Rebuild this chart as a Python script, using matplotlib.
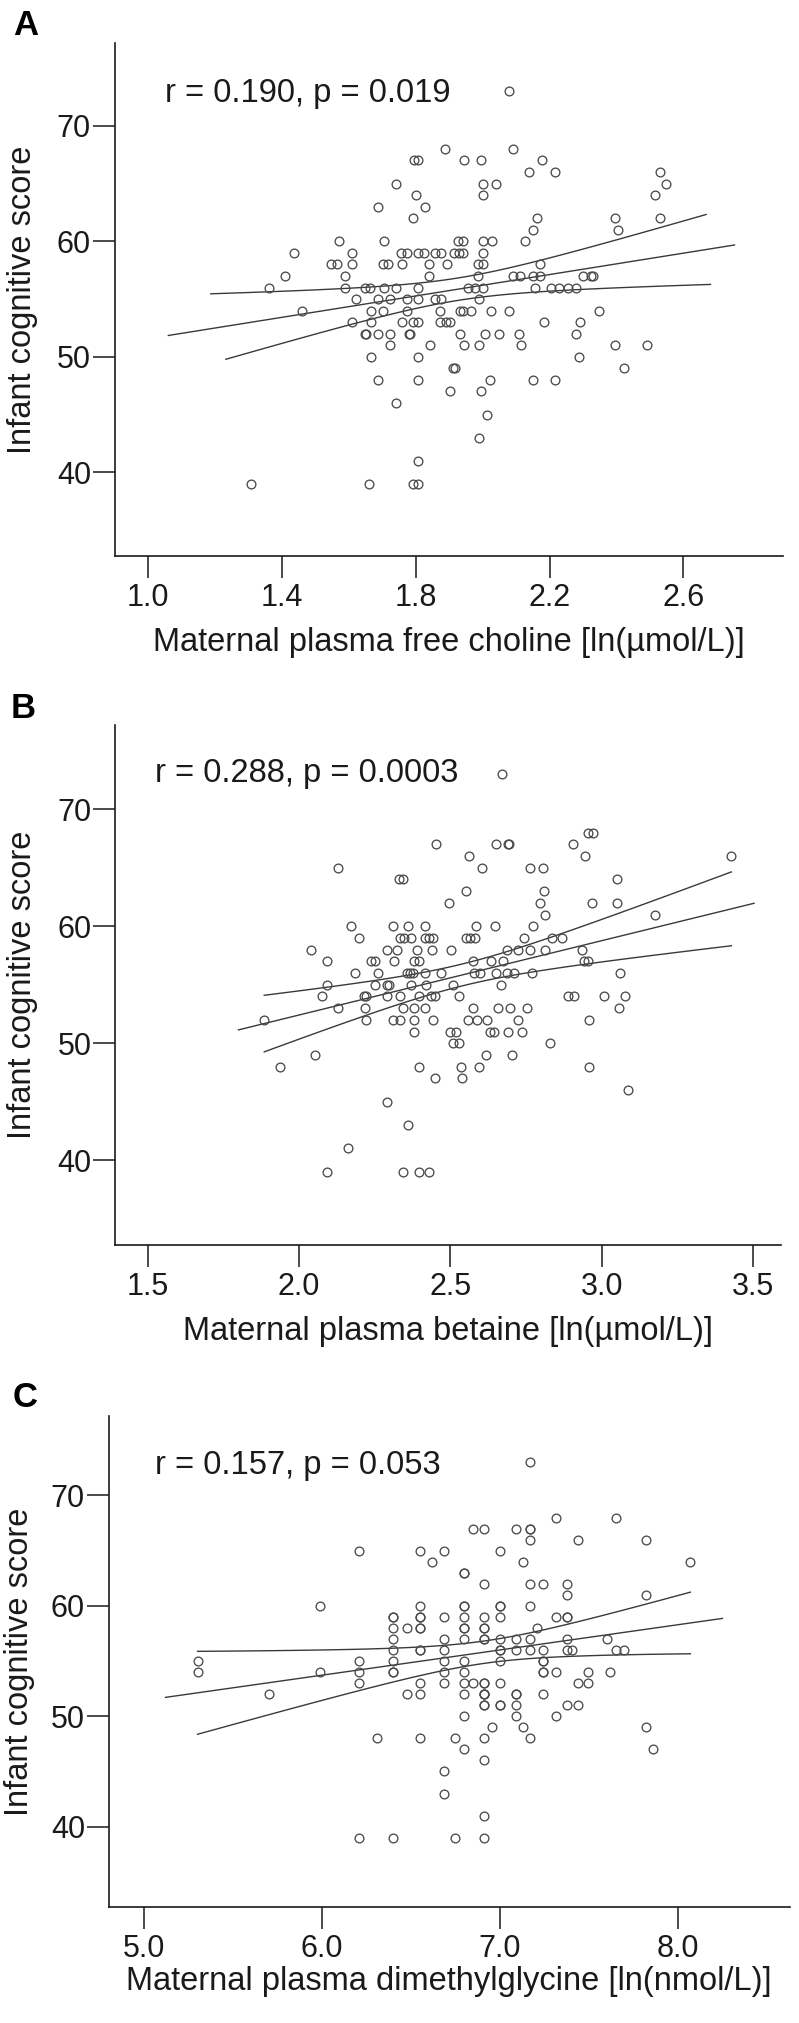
import numpy as np
import matplotlib
matplotlib.use("Agg")
import matplotlib.pyplot as plt

plt.rcParams['font.family'] = ['Liberation Sans', 'DejaVu Sans']

# ---------------- data ----------------
# Panel A: maternal plasma free choline [ln(umol/L)] vs infant cognitive score
choline_x = [
    2.078,
    1.887, 2.09,
    1.796, 1.808, 1.945, 1.994, 2.178,
    2.138, 2.217, 2.53,
    1.741, 2.0, 2.041, 2.547,
    1.80, 2.0, 2.515,
    1.687, 1.826,
    1.792, 2.163, 2.395, 2.53,
    2.149, 2.405,
    1.57, 1.706, 1.927, 1.942, 2.0, 2.028, 2.127,
    1.435, 1.609, 1.755, 1.773, 1.808, 1.824, 1.857, 1.874, 1.914, 1.93, 1.942, 2.0,
    1.545, 1.565, 1.609, 1.703, 1.718, 1.758, 1.84, 1.894, 1.986, 2.0, 2.171,
    1.41, 1.589, 1.84, 1.986, 2.09, 2.112, 2.149, 2.171, 2.299, 2.325, 2.33,
    1.361, 1.589, 1.649, 1.664, 1.704, 1.741, 1.808, 1.956, 1.976, 2.0, 2.155, 2.204, 2.229, 2.254, 2.279,
    1.621, 1.687, 1.722, 1.775, 1.808, 1.857, 1.874, 1.988,
    1.46, 1.666, 1.703, 1.775, 1.872, 1.932, 1.942, 1.966, 2.026, 2.078, 2.348,
    1.609, 1.666, 1.758, 1.793, 1.808, 1.872, 1.889, 1.902, 2.184, 2.29,
    1.647, 1.652, 1.688, 1.722, 1.779, 1.784, 1.932, 2.007, 2.05, 2.109, 2.279,
    1.722, 1.841, 1.944, 1.989, 2.116, 2.396, 2.492,
    1.666, 1.808, 2.288,
    1.912, 1.917, 2.423,
    1.687, 1.808, 2.021, 2.149, 2.217,
    1.902, 1.994,
    1.741,
    2.014,
    1.988,
    1.808,
    1.308, 1.659, 1.793, 1.808,
]
choline_y = [
    73,
    68, 68,
    67, 67, 67, 67, 67,
    66, 66, 66,
    65, 65, 65, 65,
    64, 64, 64,
    63, 63,
    62, 62, 62, 62,
    61, 61,
    60, 60, 60, 60, 60, 60, 60,
    59, 59, 59, 59, 59, 59, 59, 59, 59, 59, 59, 59,
    58, 58, 58, 58, 58, 58, 58, 58, 58, 58, 58,
    57, 57, 57, 57, 57, 57, 57, 57, 57, 57, 57,
    56, 56, 56, 56, 56, 56, 56, 56, 56, 56, 56, 56, 56, 56, 56,
    55, 55, 55, 55, 55, 55, 55, 55,
    54, 54, 54, 54, 54, 54, 54, 54, 54, 54, 54,
    53, 53, 53, 53, 53, 53, 53, 53, 53, 53,
    52, 52, 52, 52, 52, 52, 52, 52, 52, 52, 52,
    51, 51, 51, 51, 51, 51, 51,
    50, 50, 50,
    49, 49, 49,
    48, 48, 48, 48, 48,
    47, 47,
    46,
    45,
    43,
    41,
    39, 39, 39, 39,
]

# Panel B: maternal plasma betaine [ln(umol/L)]
betaine_x = [
    2.670,
    2.955, 2.972,
    2.452, 2.649, 2.69, 2.695, 2.904,
    2.560, 2.943, 3.428,
    2.128, 2.605, 2.763, 2.805,
    2.33, 2.343, 3.05,
    2.552, 2.808,
    2.494, 2.795, 2.967, 3.05,
    2.812, 3.176,
    2.173, 2.31, 2.36, 2.415, 2.585, 2.647, 2.774,
    2.197, 2.333, 2.348, 2.37, 2.416, 2.43, 2.443, 2.552, 2.566, 2.581, 2.743, 2.835, 2.87,
    2.04, 2.29, 2.323, 2.39, 2.438, 2.502, 2.688, 2.724, 2.763, 2.812, 2.935,
    2.091, 2.238, 2.25, 2.313, 2.379, 2.397, 2.575, 2.633, 2.675, 2.94, 2.954,
    2.184, 2.262, 2.355, 2.366, 2.377, 2.416, 2.468, 2.579, 2.599, 2.649, 2.688, 2.711, 2.769, 3.06,
    2.091, 2.251, 2.29, 2.296, 2.37, 2.42, 2.51, 2.668,
    2.077, 2.216, 2.22, 2.29, 2.333, 2.397, 2.436, 2.45, 2.527, 2.887, 2.908, 3.008, 3.078,
    2.128, 2.219, 2.344, 2.38, 2.416, 2.574, 2.656, 2.696, 2.754, 3.057,
    1.885, 2.22, 2.31, 2.333, 2.38, 2.444, 2.558, 2.587, 2.62, 2.724, 2.958,
    2.38, 2.5, 2.52, 2.63, 2.645, 2.69, 2.736,
    2.51, 2.527, 2.828,
    2.053, 2.616, 2.703,
    1.937, 2.397, 2.535, 2.596, 2.958,
    2.45, 2.537,
    3.088,
    2.29,
    2.36,
    2.163,
    2.091, 2.342, 2.397, 2.43,
]
betaine_y = [
    73,
    68, 68,
    67, 67, 67, 67, 67,
    66, 66, 66,
    65, 65, 65, 65,
    64, 64, 64,
    63, 63,
    62, 62, 62, 62,
    61, 61,
    60, 60, 60, 60, 60, 60, 60,
    59, 59, 59, 59, 59, 59, 59, 59, 59, 59, 59, 59, 59,
    58, 58, 58, 58, 58, 58, 58, 58, 58, 58, 58,
    57, 57, 57, 57, 57, 57, 57, 57, 57, 57, 57,
    56, 56, 56, 56, 56, 56, 56, 56, 56, 56, 56, 56, 56, 56,
    55, 55, 55, 55, 55, 55, 55, 55,
    54, 54, 54, 54, 54, 54, 54, 54, 54, 54, 54, 54, 54,
    53, 53, 53, 53, 53, 53, 53, 53, 53, 53,
    52, 52, 52, 52, 52, 52, 52, 52, 52, 52, 52,
    51, 51, 51, 51, 51, 51, 51,
    50, 50, 50,
    49, 49, 49,
    48, 48, 48, 48, 48,
    47, 47,
    46,
    45,
    43,
    41,
    39, 39, 39, 39,
]

# Panel C: maternal plasma dimethylglycine [ln(nmol/L)]
dmg_x = [
    7.17,
    7.313, 7.65,
    6.851, 6.908, 7.09, 7.17, 7.17,
    7.17, 7.438, 7.82,
    6.21, 6.55, 6.685, 7.0,
    6.62, 7.13, 8.07,
    6.80, 6.80,
    6.908, 7.17, 7.244, 7.378,
    7.378, 7.82,
    5.99, 6.55, 6.80, 6.80, 7.0, 7.0, 7.17,
    6.397, 6.397, 6.55, 6.55, 6.685, 6.80, 6.908, 7.0, 7.313, 7.378, 7.378,
    6.397, 6.477, 6.55, 6.55, 6.80, 6.80, 6.908, 6.908, 7.208,
    6.397, 6.685, 6.80, 6.908, 6.908, 7.0, 7.09, 7.17, 7.378, 7.60,
    6.397, 6.55, 6.55, 6.685, 7.0, 7.0, 7.09, 7.17, 7.244, 7.378, 7.406, 7.65, 7.696,
    5.30, 6.21, 6.397, 6.685, 6.80, 7.0, 7.244, 7.244,
    5.30, 5.99, 6.21, 6.397, 6.397, 6.685, 6.80, 7.244, 7.244, 7.313, 7.496, 7.62,
    6.21, 6.55, 6.685, 6.80, 6.851, 6.908, 6.908, 7.0, 7.438, 7.496,
    5.70, 6.477, 6.55, 6.80, 6.908, 6.908, 6.908, 7.09, 7.09, 7.244,
    6.908, 6.908, 7.0, 7.0, 7.09, 7.378, 7.438,
    6.80, 7.09, 7.313,
    6.957, 7.13, 7.82,
    6.31, 6.55, 6.745, 6.908, 7.17,
    6.80, 7.86,
    6.908,
    6.685,
    6.685,
    6.908,
    6.21, 6.397, 6.745, 6.908,
]
dmg_y = [
    73,
    68, 68,
    67, 67, 67, 67, 67,
    66, 66, 66,
    65, 65, 65, 65,
    64, 64, 64,
    63, 63,
    62, 62, 62, 62,
    61, 61,
    60, 60, 60, 60, 60, 60, 60,
    59, 59, 59, 59, 59, 59, 59, 59, 59, 59, 59,
    58, 58, 58, 58, 58, 58, 58, 58, 58,
    57, 57, 57, 57, 57, 57, 57, 57, 57, 57,
    56, 56, 56, 56, 56, 56, 56, 56, 56, 56, 56, 56, 56,
    55, 55, 55, 55, 55, 55, 55, 55,
    54, 54, 54, 54, 54, 54, 54, 54, 54, 54, 54, 54,
    53, 53, 53, 53, 53, 53, 53, 53, 53, 53,
    52, 52, 52, 52, 52, 52, 52, 52, 52, 52,
    51, 51, 51, 51, 51, 51, 51,
    50, 50, 50,
    49, 49, 49,
    48, 48, 48, 48, 48,
    47, 47,
    46,
    45,
    43,
    41,
    39, 39, 39, 39,
]

# x-extent of the drawn fit line and of the 95% CI curves (upper, lower)
choline_fit_range = [1.06, 2.753]
choline_upper_range = [1.187, 2.668]
choline_lower_range = [1.232, 2.681]
betaine_fit_range = [1.80, 3.503]
betaine_ci_range = [1.885, 3.428]
dmg_fit_range = [5.12, 8.25]
dmg_ci_range = [5.30, 8.07]

panel_letters = ["A", "B", "C"]
stats_text = ["r = 0.190, p = 0.019", "r = 0.288, p = 0.0003", "r = 0.157, p = 0.053"]
x_labels = ["Maternal plasma free choline [ln(\u00b5mol/L)]",
            "Maternal plasma betaine [ln(\u00b5mol/L)]",
            "Maternal plasma dimethylglycine [ln(nmol/L)]"]
y_label = "Infant cognitive score"
choline_ticks = [1.0, 1.4, 1.8, 2.2, 2.6]
betaine_ticks = [1.5, 2.0, 2.5, 3.0, 3.5]
dmg_ticks = [5.0, 6.0, 7.0, 8.0]
y_ticks = [40, 50, 60, 70]

# ---------------- drawing ----------------
W, H = 799, 2023
fig = plt.figure(figsize=(W / 100, H / 100), dpi=100)
fig.patch.set_facecolor("white")

INK = "#1a1a1a"
MARK = "#4a4a4a"
LINE = "#3a3a3a"
T975 = 1.976  # Student t, 0.975 quantile, ~148 df


def px_rect(l, t, r, b):
    return [l / W, 1 - b / H, (r - l) / W, (b - t) / H]


def fit_and_ci(x, y, xs):
    x = np.asarray(x, float)
    y = np.asarray(y, float)
    n = len(x)
    b, a = np.polyfit(x, y, 1)
    res = y - (a + b * x)
    s = np.sqrt(np.sum(res ** 2) / (n - 2))
    sxx = np.sum((x - x.mean()) ** 2)
    half = T975 * s * np.sqrt(1.0 / n + (xs - x.mean()) ** 2 / sxx)
    return a + b * xs, half


panels = [
    dict(x=choline_x, y=choline_y, rect=(114.5, 42.7, 783, 556), xlim=(0.899, 2.898),
         ticks=choline_ticks, fmt="{:.1f}", fit=choline_fit_range,
         up=choline_upper_range, lo=choline_lower_range,
         letter_xy=(13, 35), stat_xy=(165, 102), xlab_top=627, ylab_right=38),
    dict(x=betaine_x, y=betaine_y, rect=(115, 725, 781, 1245), xlim=(1.392, 3.592),
         ticks=betaine_ticks, fmt="{:.1f}", fit=betaine_fit_range,
         up=betaine_ci_range, lo=betaine_ci_range,
         letter_xy=(11, 718), stat_xy=(155, 782), xlab_top=1316, ylab_right=38),
    dict(x=dmg_x, y=dmg_y, rect=(108.6, 1416, 790, 1906.7), xlim=(4.80, 8.63),
         ticks=dmg_ticks, fmt="{:.1f}", fit=dmg_fit_range,
         up=dmg_ci_range, lo=dmg_ci_range,
         letter_xy=(13, 1407), stat_xy=(155, 1474), xlab_top=1966, ylab_right=35),
]

for i, p in enumerate(panels):
    l, t, r, b = p["rect"]
    ax = fig.add_axes(px_rect(l, t, r, b))
    ax.set_xlim(*p["xlim"])
    ax.set_ylim(32.75, 77.2)

    ax.plot(p["x"], p["y"], linestyle="none", marker="o", ms=6.3,
            mfc="none", mec=MARK, mew=0.95, zorder=3)

    xs = np.linspace(p["fit"][0], p["fit"][1], 100)
    yf, _ = fit_and_ci(p["x"], p["y"], xs)
    ax.plot(xs, yf, color=LINE, lw=1.0, zorder=2)
    xu = np.linspace(p["up"][0], p["up"][1], 100)
    yu, hu = fit_and_ci(p["x"], p["y"], xu)
    ax.plot(xu, yu + hu, color=LINE, lw=1.0, zorder=2)
    xl = np.linspace(p["lo"][0], p["lo"][1], 100)
    yl, hl = fit_and_ci(p["x"], p["y"], xl)
    ax.plot(xl, yl - hl, color=LINE, lw=1.0, zorder=2)

    for side in ("top", "right"):
        ax.spines[side].set_visible(False)
    for side in ("left", "bottom"):
        ax.spines[side].set_color(INK)
        ax.spines[side].set_linewidth(1.2)

    ax.set_xticks(p["ticks"])
    ax.set_xticklabels([p["fmt"].format(v) for v in p["ticks"]])
    ax.set_yticks(y_ticks)
    ax.tick_params(axis="both", direction="out", length=15.5, width=1.1,
                   color=INK, labelcolor=INK, labelsize=22)
    ax.tick_params(axis="x", pad=4)
    ax.tick_params(axis="y", pad=1.5)

    ax.set_xlabel(x_labels[i], fontsize=23.5, color=INK, va="top")
    ax.xaxis.set_label_coords(0.5, (b - p["xlab_top"]) / (b - t))
    ax.set_ylabel(y_label, fontsize=23.5, color=INK)
    ax.yaxis.set_label_coords((p["ylab_right"] - l) / (r - l), 0.5)

    lx, ly = p["letter_xy"]
    fig.text(lx / W, 1 - ly / H, panel_letters[i], fontsize=25, fontweight="bold",
             color="black", ha="left", va="baseline")
    sx, sy = p["stat_xy"]
    fig.text(sx / W, 1 - sy / H, stats_text[i], fontsize=23.5, color=INK,
             ha="left", va="baseline")

fig.savefig("out.png", dpi=100, facecolor="white")
